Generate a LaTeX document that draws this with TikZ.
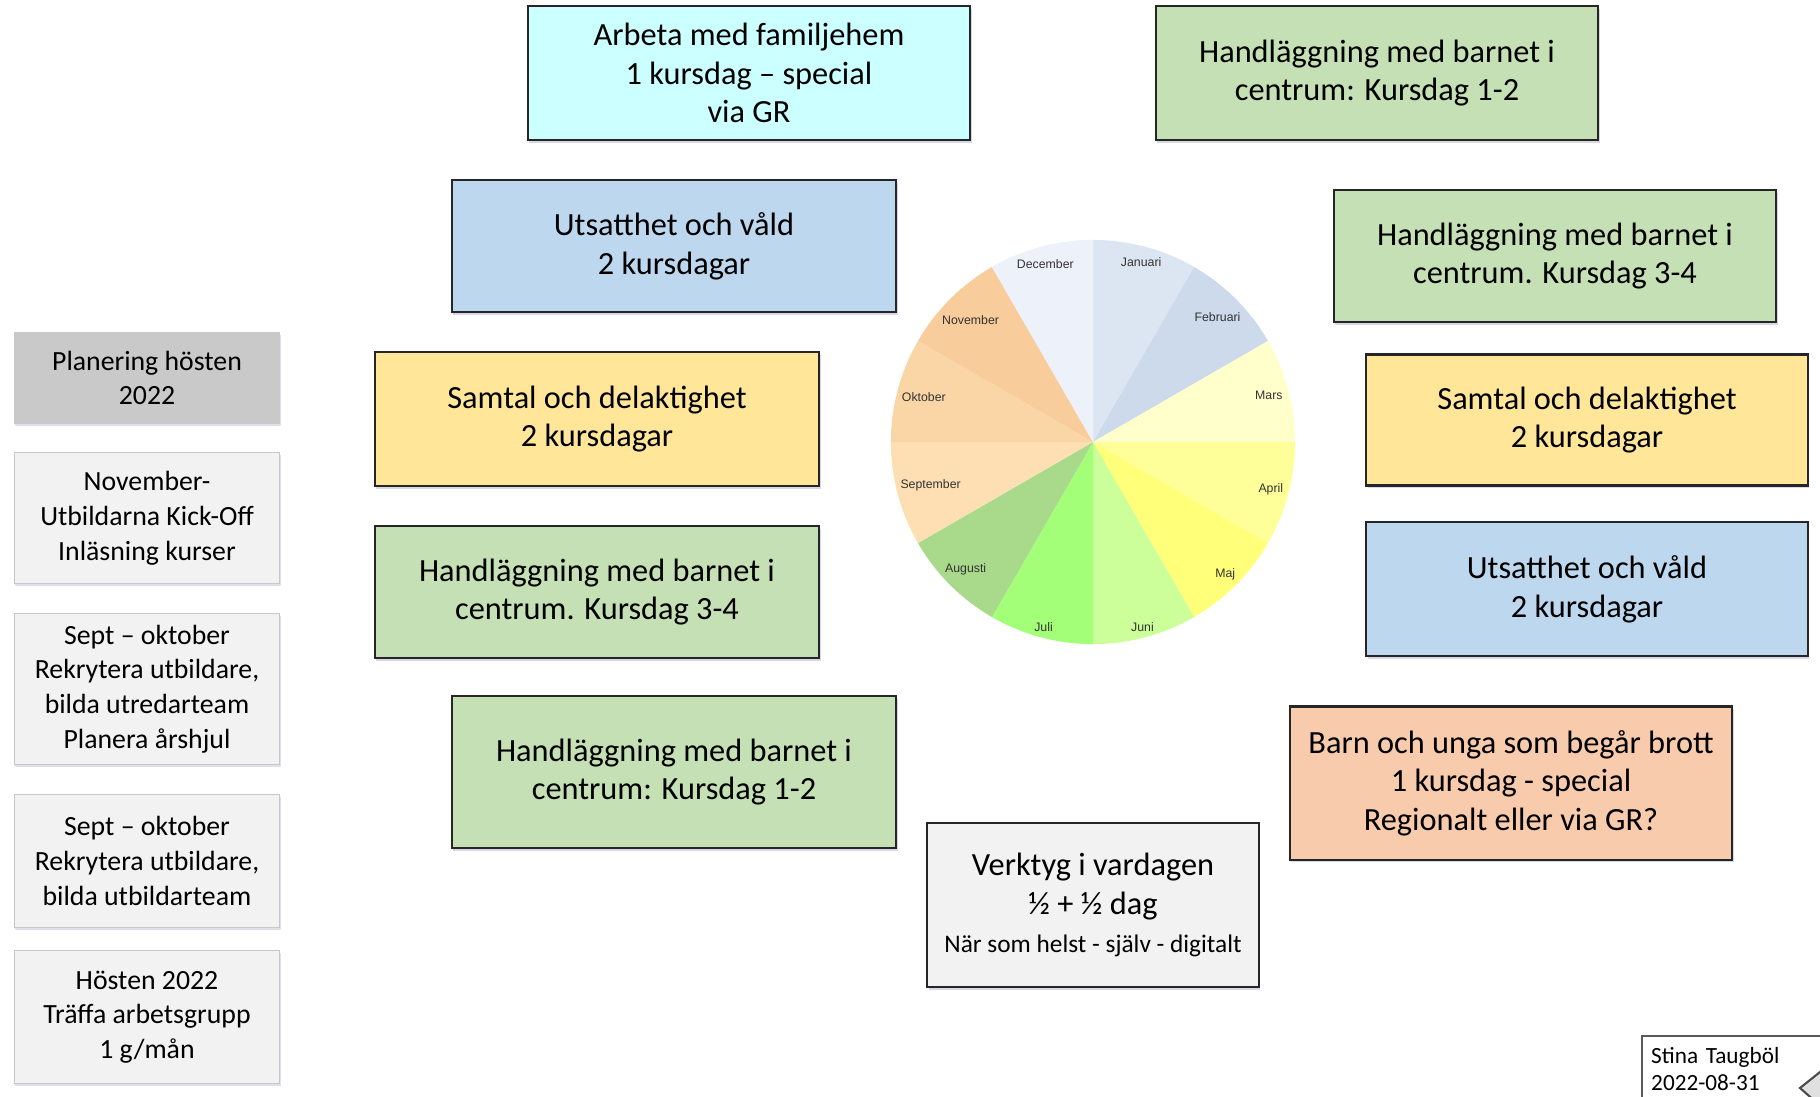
\documentclass[tikz,border=0pt]{standalone}
\usepackage{fontspec}
\setmainfont{Carlito}
\newfontfamily\piefont{Liberation Sans}
\usetikzlibrary{shadows}

\definecolor{cyanfarg}{HTML}{CCFFFF}
\definecolor{gronfarg}{HTML}{C5E0B4}
\definecolor{blafarg}{HTML}{BDD7EE}
\definecolor{gulfarg}{HTML}{FFE699}
\definecolor{laxfarg}{HTML}{F8CBAD}
\definecolor{gratt}{HTML}{F2F2F2}
\definecolor{morkgra}{HTML}{C9C9C9}
% manaderna
\definecolor{jan}{HTML}{DCE6F2}
\definecolor{feb}{HTML}{CCDAEC}
\definecolor{mar}{HTML}{FFFFCC}
\definecolor{apr}{HTML}{FFFF99}
\definecolor{maj}{HTML}{FFFF7A}
\definecolor{jun}{HTML}{CCFF99}
\definecolor{jul}{HTML}{A3FF78}
\definecolor{aug}{HTML}{A9D98A}
\definecolor{sep}{HTML}{FDDFB3}
\definecolor{okt}{HTML}{FAD6A6}
\definecolor{nov}{HTML}{F9CC9B}
\definecolor{dec}{HTML}{EDF2FA}

\begin{document}
\begin{tikzpicture}[x=0.01cm,y=-0.01cm,
        kurs/.style={draw=black!85,line width=0.6pt,align=center,inner sep=2pt,
            font=\fontsize{9.2}{11}\selectfont,
            drop shadow={shadow xshift=0.4pt,shadow yshift=-0.8pt,fill=blue!25!gray,opacity=0.25}},
        plan/.style={draw=black!22,line width=0.4pt,fill=gratt,align=center,inner sep=2pt,
            minimum width=2.65cm,font=\fontsize{7.9}{9.9}\selectfont,
            drop shadow={shadow xshift=0.3pt,shadow yshift=-0.6pt,fill=blue!25!gray,opacity=0.2}},
        manad/.style={font=\piefont\fontsize{3.5}{4}\selectfont,inner sep=0pt,text=black!80}]

    \useasboundingbox (0,0) rectangle (1820,1096);
    \clip (0,0) rectangle (1820,1096);

    % arshjulet
    \begin{scope}[shift={(1093,442)},x=1cm,y=1cm]
        \foreach \m/\a/\r/\c in {Januari/90/1.86/jan,Februari/60/1.76/feb,Mars/30/1.82/mar,
                April/0/1.84/apr,Maj/-30/1.87/maj,Juni/-60/1.91/jun,Juli/-90/1.91/jul,
                Augusti/-120/1.80/aug,September/-150/1.68/sep,Oktober/-180/1.75/okt,
                November/-210/1.73/nov,December/-240/1.84/dec}{
            \fill[\c] (0,0) -- (\a:2.02) arc[start angle=\a,end angle=\a-30,radius=2.02] -- cycle;
            \node[manad] (\m) at (\a-15:\r) {\m};
        }
    \end{scope}

    % kurserna
    \node[kurs,fill=cyanfarg,minimum width=4.42cm,minimum height=1.34cm] (familjehem) at (749,73)
        {Arbeta med familjehem\\1 kursdag -- special\\via GR};
    \node[kurs,fill=gronfarg,minimum width=4.42cm,minimum height=1.34cm] (handlA) at (1377,73)
        {Handläggning med barnet i\\centrum: Kursdag 1-2};
    \node[kurs,fill=blafarg,minimum width=4.44cm,minimum height=1.32cm] (utsattA) at (674,246)
        {Utsatthet och våld\\2 kursdagar};
    \node[kurs,fill=gronfarg,minimum width=4.42cm,minimum height=1.32cm] (handlB) at (1555,256)
        {Handläggning med barnet i\\centrum. Kursdag 3-4};
    \node[kurs,fill=gulfarg,minimum width=4.44cm,minimum height=1.34cm] (samtalA) at (597,419)
        {Samtal och delaktighet\\2 kursdagar};
    \node[kurs,fill=gulfarg,minimum width=4.41cm,minimum height=1.31cm] (samtalB) at (1587,420)
        {Samtal och delaktighet\\2 kursdagar};
    \node[kurs,fill=gronfarg,minimum width=4.44cm,minimum height=1.32cm] (handlC) at (597,592)
        {Handläggning med barnet i\\centrum. Kursdag 3-4};
    \node[kurs,fill=blafarg,minimum width=4.41cm,minimum height=1.34cm] (utsattB) at (1587,589)
        {Utsatthet och våld\\2 kursdagar};
    \node[kurs,fill=gronfarg,minimum width=4.44cm,minimum height=1.52cm] (handlD) at (674,772)
        {Handläggning med barnet i\\centrum: Kursdag 1-2};
    \node[kurs,fill=laxfarg,minimum width=4.42cm,minimum height=1.53cm] (brott) at (1511,783)
        {Barn och unga som begår brott\\1 kursdag - special\\Regionalt eller via GR?};
    \node[kurs,fill=gratt,minimum width=3.31cm,minimum height=1.64cm] (verktyg) at (1093,905)
        {Verktyg i vardagen\\½ + ½ dag\\{\fontsize{7.2}{10}\selectfont När som helst - själv - digitalt}};

    % planeringen
    \node[plan,fill=morkgra,draw=none,minimum height=0.91cm] (planering) at (147,378)
        {Planering hösten\\2022};
    \node[plan,minimum height=1.31cm] (kickoff) at (147,518)
        {November-\\Utbildarna Kick-Off\\Inläsning kurser};
    \node[plan,minimum height=1.51cm] (rekryteraA) at (147,689)
        {Sept -- oktober\\Rekrytera utbildare,\\bilda utredarteam\\Planera årshjul};
    \node[plan,minimum height=1.33cm] (rekryteraB) at (147,861)
        {Sept -- oktober\\Rekrytera utbildare,\\bilda utbildarteam};
    \node[plan,minimum height=1.33cm] (arbetsgrupp) at (147,1017)
        {Hösten 2022\\Träffa arbetsgrupp\\1 g/mån};

    % signatur
    \node[draw=black!65,line width=0.7pt,fill=white,anchor=north west,text width=1.7cm,align=left,
        inner xsep=0.09cm,inner ysep=0.11cm,font=\fontsize{6.6}{7.7}\selectfont] (signatur) at (1641,1035)
        {Stina Taugböl\\2022-08-31};
    \filldraw[fill=black!12,draw=black!70,line width=0.6pt] (1830,1064) -- (1800,1088) -- (1825,1110);

\end{tikzpicture}
\end{document}
